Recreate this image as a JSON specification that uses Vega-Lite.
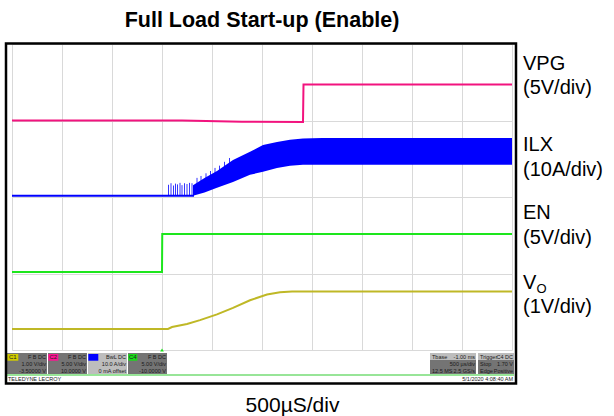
{
  "$schema": "https://vega.github.io/schema/vega-lite/v6.json",
  "width": 500,
  "height": 306,
  "autosize": {"type": "none"},
  "padding": {"left": 12, "top": 44, "right": 102, "bottom": 66},
  "background": "white",
  "config": {"view": {"stroke": null}, "font": "Liberation Sans"},
  "title": {"text": "Full Load Start-up (Enable)", "fontSize": 21.5, "fontWeight": "bold", "font": "Liberation Sans", "color": "black", "anchor": "middle", "offset": 11},
  "layer": [
    {
      "data": {"values": [{"x": 0, "y": 6.0}, {"x": 3.4, "y": 6.0}, {"x": 4.6, "y": 5.97}, {"x": 5.82, "y": 5.96}, {"x": 5.83, "y": 6.94}, {"x": 10, "y": 6.94}]},
      "mark": {"type": "line", "color": "#f2137e", "strokeWidth": 2},
      "encoding": {
        "x": {"field": "x", "type": "quantitative", "scale": {"domain": [0, 10], "nice": false, "zero": false},
          "axis": {"values": [0,1,2,3,4,5,6,7,8,9,10], "grid": true, "gridColor": "#d9d9d9", "gridWidth": 1, "labels": false, "ticks": false, "domain": false,
            "title": "500µS/div", "titleFont": "Liberation Sans", "titleFontSize": 21, "titleFontWeight": "normal", "titleColor": "black", "titleX": 280, "titleY": 61, "titleBaseline": "alphabetic", "titleAlign": "center"}},
        "y": {"field": "y", "type": "quantitative", "scale": {"domain": [0, 8], "nice": false, "zero": false},
          "axis": {"values": [0,1,2,3,4,5,6,7,8], "grid": true, "gridColor": "#d9d9d9", "gridWidth": 1, "labels": false, "ticks": false, "domain": false, "title": null}}
      }
    },
    {
      "data": {"values": [{"x": 0, "y": 2.04}, {"x": 3.0, "y": 2.04}, {"x": 3.005, "y": 3.03}, {"x": 10, "y": 3.03}]},
      "mark": {"type": "line", "color": "#1de61d", "strokeWidth": 2},
      "encoding": {
        "x": {"field": "x", "type": "quantitative", "scale": {"domain": [0, 10], "nice": false, "zero": false}},
        "y": {"field": "y", "type": "quantitative", "scale": {"domain": [0, 8], "nice": false, "zero": false}}
      }
    },
    {
      "data": {"values": [{"x": 0, "y": 0.55}, {"x": 3.12, "y": 0.55}, {"x": 3.2, "y": 0.6}, {"x": 3.5, "y": 0.68}, {"x": 3.76, "y": 0.78}, {"x": 4.1, "y": 0.93}, {"x": 4.42, "y": 1.1}, {"x": 4.76, "y": 1.3}, {"x": 5.1, "y": 1.45}, {"x": 5.36, "y": 1.51}, {"x": 5.6, "y": 1.53}, {"x": 10, "y": 1.53}]},
      "mark": {"type": "line", "color": "#bfb826", "strokeWidth": 2},
      "encoding": {
        "x": {"field": "x", "type": "quantitative", "scale": {"domain": [0, 10], "nice": false, "zero": false}},
        "y": {"field": "y", "type": "quantitative", "scale": {"domain": [0, 8], "nice": false, "zero": false}}
      }
    },
    {
      "data": {"values": [{"x": 0, "y": 4.03}, {"x": 3.64, "y": 4.03}]},
      "mark": {"type": "line", "color": "#0000ff", "strokeWidth": 2},
      "encoding": {
        "x": {"field": "x", "type": "quantitative", "scale": {"domain": [0, 10], "nice": false, "zero": false}},
        "y": {"field": "y", "type": "quantitative", "scale": {"domain": [0, 8], "nice": false, "zero": false}}
      }
    },
    {
      "data": {"values": [{"x": 3.62, "y": 4.31, "y2": 4.03}, {"x": 3.85, "y": 4.5, "y2": 4.12}, {"x": 4.1, "y": 4.68, "y2": 4.24}, {"x": 4.42, "y": 4.97, "y2": 4.39}, {"x": 4.76, "y": 5.18, "y2": 4.58}, {"x": 5.02, "y": 5.36, "y2": 4.66}, {"x": 5.3, "y": 5.44, "y2": 4.76}, {"x": 5.56, "y": 5.5, "y2": 4.82}, {"x": 5.82, "y": 5.53, "y2": 4.84}, {"x": 6.2, "y": 5.54, "y2": 4.84}, {"x": 10, "y": 5.54, "y2": 4.84}]},
      "mark": {"type": "area", "color": "#0000ff", "opacity": 1},
      "encoding": {
        "x": {"field": "x", "type": "quantitative", "scale": {"domain": [0, 10], "nice": false, "zero": false}},
        "y": {"field": "y", "type": "quantitative", "scale": {"domain": [0, 8], "nice": false, "zero": false}},
        "y2": {"field": "y2"}
      }
    },
    {
      "data": {"values": [{"x": 3.13, "y": 4.32, "y2": 4.03}, {"x": 3.18, "y": 4.36, "y2": 4.03}, {"x": 3.23, "y": 4.3, "y2": 4.03}, {"x": 3.27, "y": 4.35, "y2": 4.03}, {"x": 3.31, "y": 4.33, "y2": 4.03}, {"x": 3.36, "y": 4.37, "y2": 4.03}, {"x": 3.4, "y": 4.31, "y2": 4.03}, {"x": 3.45, "y": 4.36, "y2": 4.03}, {"x": 3.5, "y": 4.34, "y2": 4.03}, {"x": 3.55, "y": 4.37, "y2": 4.03}, {"x": 3.6, "y": 4.36, "y2": 4.03}, {"x": 3.7, "y": 4.5, "y2": 4.2}, {"x": 3.78, "y": 4.55, "y2": 4.2}, {"x": 3.88, "y": 4.62, "y2": 4.25}, {"x": 3.97, "y": 4.68, "y2": 4.3}, {"x": 4.06, "y": 4.76, "y2": 4.35}, {"x": 4.15, "y": 4.82, "y2": 4.4}, {"x": 4.25, "y": 4.92, "y2": 4.45}, {"x": 4.35, "y": 5.02, "y2": 4.5}]},
      "mark": {"type": "rule", "color": "#0000ff", "strokeWidth": 0.8},
      "encoding": {
        "x": {"field": "x", "type": "quantitative", "scale": {"domain": [0, 10], "nice": false, "zero": false}},
        "y": {"field": "y", "type": "quantitative", "scale": {"domain": [0, 8], "nice": false, "zero": false}},
        "y2": {"field": "y2"}
      }
    },
    {
      "data": {"values": [{"x": 3.0, "y": 0.0}]},
      "mark": {"type": "point", "shape": "triangle-up", "filled": true, "color": "#1de61d", "size": 14, "opacity": 1},
      "encoding": {
        "x": {"field": "x", "type": "quantitative", "scale": {"domain": [0, 10], "nice": false, "zero": false}},
        "y": {"field": "y", "type": "quantitative", "scale": {"domain": [0, 8], "nice": false, "zero": false}}
      }
    },
    {
      "data": {"values": [{"x": -0.1, "x2": 0.7, "y": -0.08, "y2": -0.63}, {"x": 0.72, "x2": 1.5, "y": -0.08, "y2": -0.63}, {"x": 2.32, "x2": 3.1, "y": -0.08, "y2": -0.63}, {"x": 8.36, "x2": 9.28, "y": -0.26, "y2": -0.63}, {"x": 9.32, "x2": 10.04, "y": -0.26, "y2": -0.63}]},
      "mark": {"type": "rect", "color": "#747474"},
      "encoding": {
        "x": {"field": "x", "type": "quantitative", "scale": {"domain": [0, 10], "nice": false, "zero": false}},
        "x2": {"field": "x2"},
        "y": {"field": "y", "type": "quantitative", "scale": {"domain": [0, 8], "nice": false, "zero": false}},
        "y2": {"field": "y2"}
      }
    },
    {
      "data": {"values": [{"x": 1.52, "x2": 2.3, "y": -0.08, "y2": -0.63}, {"x": 8.36, "x2": 9.28, "y": -0.08, "y2": -0.26}, {"x": 9.32, "x2": 10.04, "y": -0.08, "y2": -0.26}]},
      "mark": {"type": "rect", "color": "#bdbdbd"},
      "encoding": {
        "x": {"field": "x", "type": "quantitative", "scale": {"domain": [0, 10], "nice": false, "zero": false}},
        "x2": {"field": "x2"},
        "y": {"field": "y", "type": "quantitative", "scale": {"domain": [0, 8], "nice": false, "zero": false}},
        "y2": {"field": "y2"}
      }
    },
    {
      "data": {"values": [{"ch": "C1", "x": -0.094, "x2": 0.126}, {"ch": "C2", "x": 0.726, "x2": 0.926}, {"ch": "C3", "x": 1.526, "x2": 1.726}, {"ch": "C4", "x": 2.326, "x2": 2.506}]},
      "mark": {"type": "rect"},
      "encoding": {
        "x": {"field": "x", "type": "quantitative", "scale": {"domain": [0, 10], "nice": false, "zero": false}},
        "x2": {"field": "x2"},
        "y": {"datum": -0.105, "type": "quantitative", "scale": {"domain": [0, 8], "nice": false, "zero": false}},
        "y2": {"datum": -0.28},
        "color": {"field": "ch", "type": "nominal", "scale": {"domain": ["C1", "C2", "C3", "C4"], "range": ["#d2cc00", "#ff1493", "#0000ff", "#19dd19"]}, "legend": null}
      }
    },
    {
      "data": {"values": [{"x": 0.016, "t": "C1"}, {"x": 0.826, "t": "C2"}, {"x": 2.416, "t": "C4"}]},
      "mark": {"type": "text", "fontSize": 6, "color": "#222222", "align": "center", "baseline": "middle"},
      "encoding": {
        "x": {"field": "x", "type": "quantitative", "scale": {"domain": [0, 10], "nice": false, "zero": false}},
        "y": {"datum": -0.19, "type": "quantitative", "scale": {"domain": [0, 8], "nice": false, "zero": false}},
        "text": {"field": "t"}
      }
    },
    {
      "data": {"values": [{"x": 0.68, "y": -0.175, "t": "F B DC"}, {"x": 0.68, "y": -0.366, "t": "1.00 V/div"}, {"x": 0.68, "y": -0.54, "t": "-3.50000 V"}, {"x": 1.48, "y": -0.175, "t": "F B DC"}, {"x": 1.48, "y": -0.366, "t": "5.00 V/div"}, {"x": 1.48, "y": -0.54, "t": "10.0000 V"}, {"x": 2.28, "y": -0.175, "t": "BwL DC"}, {"x": 2.28, "y": -0.366, "t": "10.0 A/div"}, {"x": 2.28, "y": -0.54, "t": "0 mA offset"}, {"x": 3.08, "y": -0.175, "t": "F B DC"}, {"x": 3.08, "y": -0.366, "t": "5.00 V/div"}, {"x": 3.08, "y": -0.54, "t": "-10.0000 V"}, {"x": 9.26, "y": -0.175, "t": "-1.00 ms"}, {"x": 9.26, "y": -0.366, "t": "500 µs/div"}, {"x": 9.26, "y": -0.54, "t": "2.5 GS/s"}, {"x": 10.02, "y": -0.175, "t": "C4 DC"}, {"x": 10.02, "y": -0.366, "t": "1.70 V"}, {"x": 10.02, "y": -0.54, "t": "Positive"}, {"x": 10.02, "y": -0.76, "t": "5/1/2020 4:08:40 AM"}]},
      "mark": {"type": "text", "fontSize": 5.5, "color": "#1a1a1a", "align": "right", "baseline": "middle"},
      "encoding": {
        "x": {"field": "x", "type": "quantitative", "scale": {"domain": [0, 10], "nice": false, "zero": false}},
        "y": {"field": "y", "type": "quantitative", "scale": {"domain": [0, 8], "nice": false, "zero": false}},
        "text": {"field": "t"}
      }
    },
    {
      "data": {"values": [{"x": 8.4, "y": -0.175, "t": "Tbase"}, {"x": 8.4, "y": -0.54, "t": "12.5 MS"}, {"x": 9.36, "y": -0.175, "t": "Trigger"}, {"x": 9.36, "y": -0.366, "t": "Stop"}, {"x": 9.36, "y": -0.54, "t": "Edge"}, {"x": -0.08, "y": -0.76, "t": "TELEDYNE LECROY"}]},
      "mark": {"type": "text", "fontSize": 5.5, "color": "#1a1a1a", "align": "left", "baseline": "middle"},
      "encoding": {
        "x": {"field": "x", "type": "quantitative", "scale": {"domain": [0, 10], "nice": false, "zero": false}},
        "y": {"field": "y", "type": "quantitative", "scale": {"domain": [0, 8], "nice": false, "zero": false}},
        "text": {"field": "t"}
      }
    },
    {
      "data": {"values": [{"x": -0.1, "x2": 10.04, "y": -0.654}]},
      "mark": {"type": "rule", "color": "#33cc33", "strokeWidth": 1.2},
      "encoding": {
        "x": {"field": "x", "type": "quantitative", "scale": {"domain": [0, 10], "nice": false, "zero": false}},
        "x2": {"field": "x2"},
        "y": {"field": "y", "type": "quantitative", "scale": {"domain": [0, 8], "nice": false, "zero": false}}
      }
    },
    {
      "data": {"values": [{"x": -0.12, "x2": 10.08, "y": 8.013, "y2": -0.876}]},
      "mark": {"type": "rect", "fill": "transparent", "stroke": "black", "strokeWidth": 2.5},
      "encoding": {
        "x": {"field": "x", "type": "quantitative", "scale": {"domain": [0, 10], "nice": false, "zero": false}},
        "x2": {"field": "x2"},
        "y": {"field": "y", "type": "quantitative", "scale": {"domain": [0, 8], "nice": false, "zero": false}},
        "y2": {"field": "y2"}
      }
    },
    {
      "data": {"values": [{"x": 10.22, "y": 7.48, "t": "VPG"}, {"x": 10.22, "y": 6.85, "t": "(5V/div)"}, {"x": 10.22, "y": 5.36, "t": "ILX"}, {"x": 10.22, "y": 4.71, "t": "(10A/div)"}, {"x": 10.22, "y": 3.58, "t": "EN"}, {"x": 10.22, "y": 2.93, "t": "(5V/div)"}, {"x": 10.22, "y": 1.75, "t": "V"}, {"x": 10.22, "y": 1.12, "t": "(1V/div)"}]},
      "mark": {"type": "text", "fontSize": 20, "color": "black", "align": "left", "baseline": "middle", "font": "Liberation Sans"},
      "encoding": {
        "x": {"field": "x", "type": "quantitative", "scale": {"domain": [0, 10], "nice": false, "zero": false}},
        "y": {"field": "y", "type": "quantitative", "scale": {"domain": [0, 8], "nice": false, "zero": false}},
        "text": {"field": "t"}
      }
    },
    {
      "data": {"values": [{"x": 10.49, "y": 1.6, "t": "O"}]},
      "mark": {"type": "text", "fontSize": 13, "color": "black", "align": "left", "baseline": "middle", "font": "Liberation Sans"},
      "encoding": {
        "x": {"field": "x", "type": "quantitative", "scale": {"domain": [0, 10], "nice": false, "zero": false}},
        "y": {"field": "y", "type": "quantitative", "scale": {"domain": [0, 8], "nice": false, "zero": false}},
        "text": {"field": "t"}
      }
    }
  ]
}
